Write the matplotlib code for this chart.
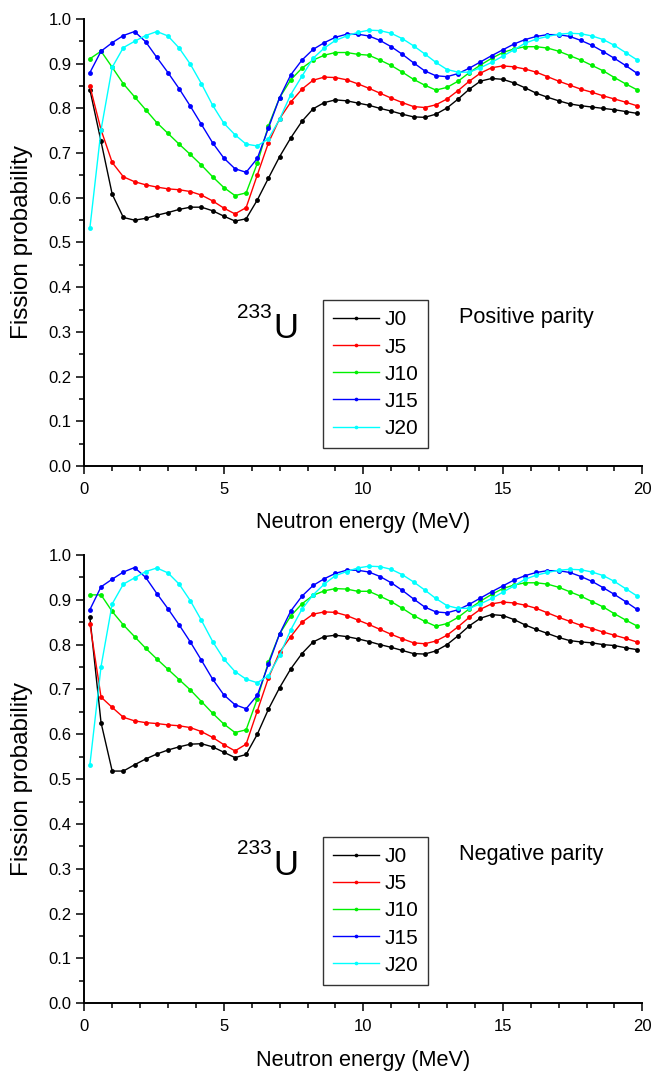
import matplotlib
matplotlib.use("Agg")
import matplotlib.pyplot as plt
from matplotlib.ticker import MultipleLocator, FormatStrFormatter

plt.rcParams['font.family'] = ['Liberation Sans', 'DejaVu Sans']

energy = [0.2, 0.6, 1.0, 1.4, 1.8, 2.2, 2.6, 3.0, 3.4, 3.8,
          4.2, 4.6, 5.0, 5.4, 5.8, 6.2, 6.6, 7.0, 7.4, 7.8,
          8.2, 8.6, 9.0, 9.4, 9.8, 10.2, 10.6, 11.0, 11.4, 11.8,
          12.2, 12.6, 13.0, 13.4, 13.8, 14.2, 14.6, 15.0, 15.4, 15.8,
          16.2, 16.6, 17.0, 17.4, 17.8, 18.2, 18.6, 19.0, 19.4, 19.8]

series_labels = ["J0", "J5", "J10", "J15", "J20"]
series_colors = ["#000000", "#FF0000", "#00F000", "#0000FF", "#00FFFF"]

# Positive parity
pos_J0 = [0.842, 0.726, 0.608, 0.556, 0.550, 0.554, 0.561, 0.567, 0.574, 0.579,
          0.579, 0.571, 0.559, 0.548, 0.553, 0.595, 0.644, 0.692, 0.734, 0.771,
          0.799, 0.813, 0.819, 0.817, 0.812, 0.807, 0.800, 0.794, 0.787, 0.781,
          0.780, 0.787, 0.801, 0.821, 0.843, 0.861, 0.867, 0.865, 0.857, 0.846,
          0.834, 0.825, 0.817, 0.810, 0.806, 0.803, 0.800, 0.797, 0.793, 0.789]
pos_J5 = [0.850, 0.752, 0.679, 0.647, 0.636, 0.629, 0.624, 0.620, 0.618, 0.614,
          0.606, 0.593, 0.577, 0.564, 0.578, 0.651, 0.723, 0.777, 0.814, 0.843,
          0.863, 0.870, 0.869, 0.864, 0.855, 0.845, 0.834, 0.823, 0.813, 0.804,
          0.802, 0.808, 0.821, 0.840, 0.861, 0.879, 0.891, 0.895, 0.893, 0.888,
          0.881, 0.871, 0.861, 0.852, 0.843, 0.836, 0.828, 0.821, 0.814, 0.806]
pos_J10 = [0.911, 0.928, 0.892, 0.855, 0.826, 0.797, 0.768, 0.744, 0.720, 0.697,
           0.673, 0.647, 0.623, 0.605, 0.611, 0.677, 0.761, 0.824, 0.864, 0.890,
           0.908, 0.919, 0.925, 0.925, 0.921, 0.919, 0.908, 0.896, 0.881, 0.865,
           0.852, 0.841, 0.847, 0.861, 0.880, 0.897, 0.912, 0.925, 0.933, 0.938,
           0.938, 0.935, 0.928, 0.918, 0.908, 0.896, 0.884, 0.869, 0.855, 0.842]
pos_J15 = [0.880, 0.928, 0.947, 0.963, 0.972, 0.949, 0.914, 0.880, 0.844, 0.805,
           0.764, 0.723, 0.689, 0.665, 0.657, 0.688, 0.756, 0.824, 0.875, 0.908,
           0.932, 0.947, 0.959, 0.966, 0.966, 0.962, 0.952, 0.938, 0.921, 0.902,
           0.884, 0.873, 0.871, 0.878, 0.890, 0.904, 0.918, 0.931, 0.944, 0.954,
           0.961, 0.965, 0.965, 0.961, 0.952, 0.941, 0.927, 0.912, 0.896, 0.879]
pos_J20 = [0.532, 0.752, 0.892, 0.936, 0.950, 0.963, 0.972, 0.962, 0.935, 0.899,
           0.855, 0.807, 0.767, 0.741, 0.720, 0.716, 0.732, 0.776, 0.831, 0.872,
           0.912, 0.935, 0.952, 0.962, 0.970, 0.975, 0.974, 0.968, 0.956, 0.940,
           0.922, 0.903, 0.887, 0.881, 0.881, 0.891, 0.903, 0.917, 0.931, 0.946,
           0.955, 0.961, 0.966, 0.968, 0.967, 0.962, 0.954, 0.941, 0.925, 0.909]

# Negative parity
neg_J0 = [0.861, 0.626, 0.518, 0.518, 0.532, 0.545, 0.556, 0.565, 0.572, 0.578,
          0.579, 0.572, 0.560, 0.548, 0.555, 0.600, 0.656, 0.704, 0.746, 0.780,
          0.806, 0.818, 0.821, 0.818, 0.813, 0.807, 0.800, 0.794, 0.787, 0.780,
          0.779, 0.786, 0.800, 0.820, 0.842, 0.859, 0.867, 0.865, 0.856, 0.844,
          0.834, 0.825, 0.816, 0.809, 0.806, 0.804, 0.800, 0.798, 0.793, 0.789]
neg_J5 = [0.847, 0.683, 0.660, 0.638, 0.630, 0.626, 0.624, 0.621, 0.619, 0.615,
          0.606, 0.593, 0.577, 0.563, 0.578, 0.652, 0.726, 0.783, 0.818, 0.850,
          0.868, 0.873, 0.872, 0.865, 0.855, 0.845, 0.834, 0.823, 0.813, 0.804,
          0.802, 0.808, 0.821, 0.840, 0.861, 0.879, 0.891, 0.895, 0.893, 0.888,
          0.881, 0.871, 0.861, 0.852, 0.843, 0.836, 0.828, 0.821, 0.814, 0.806]
neg_J10 = [0.911, 0.911, 0.874, 0.844, 0.818, 0.792, 0.768, 0.745, 0.722, 0.699,
           0.673, 0.647, 0.623, 0.604, 0.610, 0.679, 0.761, 0.824, 0.864, 0.891,
           0.910, 0.920, 0.925, 0.924, 0.919, 0.919, 0.908, 0.896, 0.881, 0.865,
           0.852, 0.841, 0.847, 0.861, 0.880, 0.897, 0.912, 0.925, 0.933, 0.938,
           0.938, 0.935, 0.928, 0.918, 0.908, 0.896, 0.884, 0.869, 0.855, 0.842]
neg_J15 = [0.878, 0.929, 0.946, 0.962, 0.972, 0.950, 0.914, 0.880, 0.844, 0.806,
           0.765, 0.723, 0.688, 0.666, 0.657, 0.687, 0.756, 0.824, 0.875, 0.908,
           0.932, 0.947, 0.959, 0.966, 0.966, 0.962, 0.952, 0.938, 0.921, 0.902,
           0.884, 0.873, 0.871, 0.878, 0.890, 0.904, 0.918, 0.931, 0.944, 0.954,
           0.961, 0.965, 0.965, 0.961, 0.952, 0.941, 0.927, 0.912, 0.896, 0.879]
neg_J20 = [0.532, 0.751, 0.891, 0.935, 0.949, 0.963, 0.971, 0.960, 0.935, 0.898,
           0.854, 0.807, 0.768, 0.740, 0.723, 0.715, 0.731, 0.776, 0.833, 0.879,
           0.911, 0.935, 0.954, 0.963, 0.971, 0.975, 0.974, 0.968, 0.956, 0.940,
           0.922, 0.903, 0.887, 0.881, 0.881, 0.891, 0.903, 0.917, 0.931, 0.946,
           0.955, 0.961, 0.966, 0.968, 0.967, 0.962, 0.954, 0.941, 0.925, 0.909]

panels = [
    ([pos_J0, pos_J5, pos_J10, pos_J15, pos_J20], "Positive parity"),
    ([neg_J0, neg_J5, neg_J10, neg_J15, neg_J20], "Negative parity"),
]

fig = plt.figure(figsize=(6.66, 10.72), dpi=100)
rects = [[0.12658, 0.56530, 0.83784, 0.41698],
         [0.12658, 0.06410, 0.83784, 0.41819]]

for rect, (data, parity) in zip(rects, panels):
    ax = fig.add_axes(rect)
    for vals, lab, col in zip(data, series_labels, series_colors):
        ax.plot(energy, vals, '-', color=col, lw=1.0, marker='o',
                markersize=3.5, markeredgewidth=0, label=lab)
    ax.set_xlim(0, 20)
    ax.set_ylim(0, 1.0)
    ax.xaxis.set_major_locator(MultipleLocator(5))
    ax.xaxis.set_minor_locator(MultipleLocator(1))
    ax.yaxis.set_major_locator(MultipleLocator(0.1))
    ax.yaxis.set_minor_locator(MultipleLocator(0.05))
    ax.yaxis.set_major_formatter(FormatStrFormatter('%.1f'))
    for s in ['top', 'right']:
        ax.spines[s].set_visible(False)
    for s in ['left', 'bottom']:
        ax.spines[s].set_linewidth(1.4)
    ax.tick_params(which='major', direction='out', length=5.8, width=1.1,
                   labelsize=12)
    ax.tick_params(which='minor', direction='out', length=3.3, width=1.1)
    ax.tick_params(axis='x', which='major', pad=5.5)
    ax.tick_params(axis='y', which='major', pad=3.5)
    ax.set_xlabel("Neutron energy (MeV)", fontsize=15.7, va='center')
    ax.xaxis.set_label_coords(0.5, -0.1275)
    ax.set_ylabel("Fission probability", fontsize=17.5, va='center')
    ax.yaxis.set_label_coords(-0.1117, 0.5)

    ax.text(0.2733, 0.332, "233", transform=ax.transAxes, fontsize=15,
            ha='left', va='baseline')
    ax.text(0.338, 0.287, "U", transform=ax.transAxes, fontsize=25,
            ha='left', va='baseline')
    ax.text(0.6713, 0.3206, parity, transform=ax.transAxes, fontsize=15.6,
            ha='left', va='baseline')

    leg = ax.legend(loc='upper left', bbox_to_anchor=(0.4272, 0.3714),
                    borderaxespad=0, fontsize=15, frameon=True, fancybox=False,
                    edgecolor='black', handlelength=2.2, handletextpad=0.25,
                    labelspacing=0.39, borderpad=0.5, markerscale=0.75)
    leg.get_frame().set_linewidth(1.0)

fig.savefig("out.png", dpi=100)
